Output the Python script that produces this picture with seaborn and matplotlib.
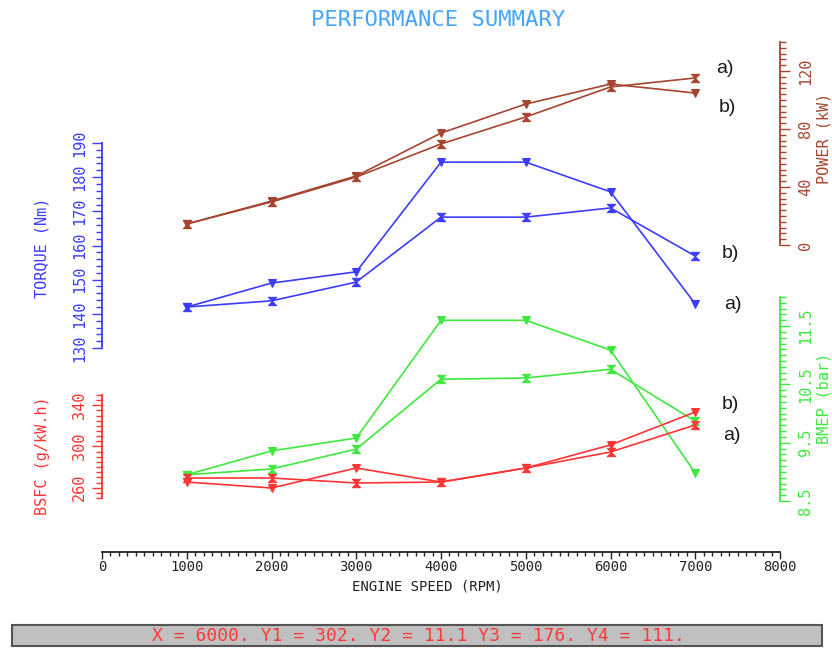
import matplotlib
matplotlib.use('Agg')
import matplotlib.pyplot as plt
import seaborn as sns
from matplotlib.patches import Rectangle
from matplotlib.path import Path
from matplotlib.ticker import MultipleLocator, FixedLocator

# data
rpm = [1000, 2000, 3000, 4000, 5000, 6000, 7000]

torque_v = [142.0, 149.0, 152.3, 184.4, 184.4, 175.7, 142.9]
torque_x = [142.0, 143.8, 149.3, 168.3, 168.3, 171.0, 156.9]
power_x = [14.5, 29.7, 46.9, 69.7, 88.3, 109.0, 115.2]
power_v = [14.5, 30.3, 47.6, 77.2, 97.2, 111.0, 104.8]
bmep_v = [8.95, 9.36, 9.58, 11.60, 11.60, 11.09, 8.98]
bmep_x = [8.95, 9.05, 9.39, 10.59, 10.61, 10.76, 9.87]
bsfc_v = [265.5, 259.7, 279.1, 265.5, 279.1, 301.5, 333.5]
bsfc_x = [269.4, 269.4, 264.6, 265.5, 279.1, 294.7, 320.9]

x_ticks = [0, 1000, 2000, 3000, 4000, 5000, 6000, 7000, 8000]
torque_ticks = [130, 140, 150, 160, 170, 180, 190]
power_ticks = [0, 40, 80, 120]
bmep_ticks = [8.5, 9.5, 10.5, 11.5]
bsfc_ticks = [260, 300, 340]

status = 'X = 6000. Y1 = 302. Y2 = 11.1 Y3 = 176. Y4 = 111.'

sns.set_theme(style='white')
plt.rcParams['font.family'] = ['DejaVu Sans Mono', 'DejaVu Sans']

C_TQ = '#3c3cff'
C_PW = '#a5452f'
C_BM = '#3ee83e'
C_SF = '#ff3434'
C_TXT = '#222222'

W, H = 832, 648
X0, X1 = 102, 780
fig = plt.figure(figsize=(W / 100, H / 100), dpi=100)
fig.patch.set_facecolor('white')

hourglass = Path([(-1, 1), (1, 1), (-1, -1), (1, -1), (-1, 1)], closed=True)


def band_axes(top, bottom):
    ax = fig.add_axes([X0 / W, 1 - bottom / H, (X1 - X0) / W, (bottom - top) / H])
    ax.set_facecolor('none')
    ax.set_xlim(0, 8000)
    for s in ax.spines.values():
        s.set_visible(False)
    ax.tick_params(axis='x', bottom=False, labelbottom=False, top=False)
    ax.grid(False)
    return ax


def style_y(ax, side, color, lim, ticks, minor, pad):
    ax.set_ylim(*lim)
    ax.spines[side].set_visible(True)
    ax.spines[side].set_color(color)
    ax.spines[side].set_linewidth(1.3)
    if side == 'right':
        ax.yaxis.tick_right()
    else:
        ax.yaxis.tick_left()
    ax.yaxis.set_major_locator(FixedLocator(ticks))
    ax.yaxis.set_minor_locator(MultipleLocator(minor))
    ax.tick_params(axis='y', which='both', direction='out', colors=color,
                   labelrotation=90, labelsize=11, pad=pad, width=1)
    ax.tick_params(axis='y', which='major', length=7)
    ax.tick_params(axis='y', which='minor', length=4)
    if side == 'right':
        ax.tick_params(axis='y', which='both', left=False, right=True)
    else:
        ax.tick_params(axis='y', which='both', left=True, right=False)
    for lab in ax.get_yticklabels():
        lab.set_verticalalignment('center')


def draw(ax, y, color, marker):
    sns.lineplot(x=rpm, y=y, ax=ax, color=color, marker=marker, markersize=6,
                 markeredgecolor=color, markerfacecolor=color, linewidth=1.2,
                 legend=False, clip_on=False)
    ax.set_xlabel('')
    ax.set_ylabel('')


ax_pw = band_axes(42, 245)
ax_tq = band_axes(143, 348)
ax_bm = band_axes(297, 501)
ax_sf = band_axes(395, 498)

draw(ax_pw, power_x, C_PW, hourglass)
draw(ax_pw, power_v, C_PW, 'v')
draw(ax_tq, torque_v, C_TQ, 'v')
draw(ax_tq, torque_x, C_TQ, hourglass)
draw(ax_bm, bmep_v, C_BM, 'v')
draw(ax_bm, bmep_x, C_BM, hourglass)
draw(ax_sf, bsfc_v, C_SF, 'v')
draw(ax_sf, bsfc_x, C_SF, hourglass)

style_y(ax_pw, 'right', C_PW, (0, 140), power_ticks, 4, 6)
style_y(ax_tq, 'left', C_TQ, (130, 190), torque_ticks, 2, 4)
style_y(ax_bm, 'right', C_BM, (8.5, 12.0), bmep_ticks, 0.1, 6)
style_y(ax_sf, 'left', C_SF, (250, 350), bsfc_ticks, 5, 4)

# engine speed axis
ax_x = fig.add_axes([X0 / W, 1 - 552 / H, (X1 - X0) / W, 0.001])
ax_x.set_facecolor('none')
for k, s in ax_x.spines.items():
    s.set_visible(k == 'bottom')
ax_x.spines['bottom'].set_color(C_TXT)
ax_x.spines['bottom'].set_linewidth(1.3)
ax_x.set_xlim(0, 8000)
ax_x.set_yticks([])
ax_x.xaxis.set_major_locator(FixedLocator(x_ticks))
ax_x.xaxis.set_minor_locator(MultipleLocator(100))
ax_x.tick_params(axis='x', which='both', direction='out', colors=C_TXT,
                 bottom=True, top=False, labelsize=10, pad=1, width=1)
ax_x.tick_params(axis='x', which='major', length=5)
ax_x.tick_params(axis='x', which='minor', length=3)


def ftext(px, py, s, **kw):
    fig.text(px / W, 1 - py / H, s, ha='center', va='center', **kw)


ftext(438, 20, 'PERFORMANCE SUMMARY', color='#45a5ff', fontsize=16)
ftext(427, 586, 'ENGINE SPEED (RPM)', color=C_TXT, fontsize=10)
ftext(42, 248, 'TORQUE (Nm)', color=C_TQ, fontsize=11, rotation=90)
ftext(42, 456, 'BSFC (g/kW.h)', color=C_SF, fontsize=11, rotation=90)
ftext(824, 138, 'POWER (kW)', color=C_PW, fontsize=11, rotation=90)
ftext(824, 398, 'BMEP (bar)', color=C_BM, fontsize=11, rotation=90)

# curve tags
lab_kw = dict(fontsize=14, color='#1a1a1a', family=['Liberation Sans', 'DejaVu Sans'],
              ha='left', va='center')
ax_pw.text(7245, 122, 'a)', **lab_kw)
ax_pw.text(7280, 94.5, 'b)', **lab_kw)
ax_tq.text(7316, 157.8, 'b)', **lab_kw)
ax_tq.text(7339, 142.6, 'a)', **lab_kw)
ax_bm.text(7316, 10.15, 'b)', **lab_kw)
ax_bm.text(7330, 9.63, 'a)', **lab_kw)

# cursor status bar
fig.add_artist(Rectangle((12 / W, 1 - 646 / H), 810 / W, 21 / H,
                         transform=fig.transFigure, facecolor='#c0c0c0',
                         edgecolor='#555555', linewidth=1.5))
ftext(418, 636, status, color='#ff3b3b', fontsize=13)

fig.savefig('out.png', dpi=100)
